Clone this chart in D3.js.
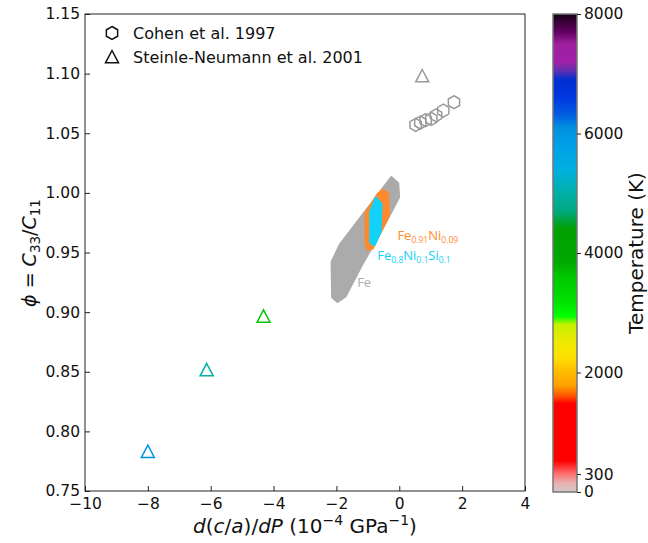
<!DOCTYPE html>
<html>
<head>
<meta charset="utf-8">
<script src="https://cdn.jsdelivr.net/npm/d3@7"></script>
<style>
	body { margin: 0; background: #fff; }
	svg { display: block; font-family: 'DejaVu Sans', sans-serif; }
	.tick text { font-family: 'DejaVu Sans', sans-serif; font-size: 15.5px; fill: #111; }
</style>
</head>
<body>
<svg id="chart" width="648" height="543"></svg>
<script>
const W = 648
const H = 543

// Steinle-Neumann et al. 2001 (triangles)
const steinleX = [-8.0, -6.13, -4.32, 0.73]
const steinlePhi = [0.783, 0.8515, 0.8965, 1.098]
const steinleT = [6000, 5000, 3600, 0]

// Cohen et al. 1997 (hexagons), 0 K
const cohenX = [0.52, 0.67, 0.84, 1.02, 1.17, 1.40, 1.74]
const cohenPhi = [1.057, 1.059, 1.061, 1.062, 1.065, 1.069, 1.076]

// shaded regions, outline in (dc/a/dP, phi)
const feX = [-0.25, -0.05, -0.02, -0.51, -1.24, -1.72, -1.97, -2.12, -2.14, -1.88]
const fePhi = [1.0128, 1.008, 0.9965, 0.972, 0.9378, 0.9135, 0.9090, 0.9125, 0.942, 0.9563]
const niX = [-0.51, -0.37, -0.34, -0.86, -1.00, -1.06, -1.06, -0.67]
const niPhi = [1.002, 0.9995, 0.9814, 0.9535, 0.9528, 0.9563, 0.9831, 0.999]
const siX = [-0.74, -0.58, -0.61, -0.80, -0.91, -0.91]
const siPhi = [0.9955, 0.9905, 0.9672, 0.9565, 0.9585, 0.984]

const xTicks = [-10, -8, -6, -4, -2, 0, 2, 4]
const yTicks = [0.75, 0.80, 0.85, 0.90, 0.95, 1.00, 1.05, 1.10, 1.15]
const cbTicks = [0, 300, 2000, 4000, 6000, 8000]

// colour map
const cmapT = [0, 150, 320, 520, 1480, 1600, 1780, 2050, 2250, 2500, 2800, 2940, 3200, 3600, 3850, 4400, 4700, 5000, 5400, 5800, 6100, 6300, 6600, 6900, 7050, 7200, 7500, 7700, 7900, 8000]
const cmapC = ['#d2c8c8', '#e8b0b0', '#ff6868', '#ff0000', '#ff0000', '#ff5000', '#ffa000', '#ffc000', '#ffe000', '#eeea00', '#c8f000', '#00ff00', '#00e000', '#00c800', '#00a800', '#00a000', '#00a880', '#00b0a8', '#00b0e0', '#00a0e8', '#0090e0', '#0060e0', '#0038e0', '#0030d0', '#6030b0', '#a020a8', '#a020a0', '#600060', '#300030', '#100010']

const svg = d3.select('#chart')

const x = d3.scaleLinear().domain([-10, 4]).range([85, 525])
const y = d3.scaleLinear().domain([0.75, 1.15]).range([491, 14])
const tColor = d3.scaleLinear().domain(cmapT).range(cmapC).interpolate(d3.interpolateRgb)
const markerColor = t => t === 0 ? '#999' : tColor(t)

function hexPath(r) {
	return d3.range(6).map(k => {
		const a = -Math.PI / 2 + k * Math.PI / 3
		return [r * Math.cos(a), r * Math.sin(a)]
	})
}
function triPath(s) {
	return [[0, -s], [-s, s * 0.9], [s, s * 0.9]]
}
const closed = d3.line().curve(d3.curveLinearClosed)

// regions
const regionLine = d3.line()
	.x(d => x(d[0]))
	.y(d => y(d[1]))
	.curve(d3.curveLinearClosed)

const regions = [
	{ xs: feX, ys: fePhi, color: '#ababab' },
	{ xs: niX, ys: niPhi, color: '#ff8a2e' },
	{ xs: siX, ys: siPhi, color: '#14d2f7' },
]
svg.selectAll('.region').data(regions).enter()
	.append('path')
		.attr('class', 'region')
		.attr('d', d => regionLine(d.xs.map((v, i) => [v, d.ys[i]])))
		.attr('fill', d => d.color)
		.attr('stroke', d => d.color)
		.attr('stroke-width', 3)
		.attr('stroke-linejoin', 'round')

// region labels
function subLabel(px, py, parts, color) {
	const t = svg.append('text')
		.attr('x', x(px))
		.attr('y', y(py))
		.attr('fill', color)
		.style('font-family', "'Open Sans', sans-serif")
	parts.forEach(p => {
		t.append('tspan')
			.style('font-size', p.sub ? '8.5px' : '13px')
			.attr('dy', p.sub ? 3 : (p.after ? -3 : 0))
			.text(p.s)
	})
}
subLabel(-0.06, 0.9605, [{ s: 'Fe' }, { s: '0.91', sub: true }, { s: 'Ni', after: true }, { s: '0.09', sub: true }], '#ff8a2e')
subLabel(-0.70, 0.9437, [{ s: 'Fe' }, { s: '0.8', sub: true }, { s: 'Ni', after: true }, { s: '0.1', sub: true }, { s: 'Si', after: true }, { s: '0.1', sub: true }], '#14d2f7')
subLabel(-1.34, 0.921, [{ s: 'Fe' }], '#ababab')

// markers
svg.selectAll('.hex').data(cohenX).enter()
	.append('path')
		.attr('class', 'hex')
		.attr('transform', (d, i) => `translate(${x(d)},${y(cohenPhi[i])})`)
		.attr('d', closed(hexPath(6.5)))
		.attr('fill', 'none')
		.attr('stroke', markerColor(0))
		.attr('stroke-width', 1.5)

svg.selectAll('.tri').data(steinleX).enter()
	.append('path')
		.attr('class', 'tri')
		.attr('transform', (d, i) => `translate(${x(d)},${y(steinlePhi[i])})`)
		.attr('d', closed(triPath(6.5)))
		.attr('fill', 'none')
		.attr('stroke', (d, i) => markerColor(steinleT[i]))
		.attr('stroke-width', 1.5)

// axes
const xAxis = d3.axisBottom(x)
	.tickValues(xTicks)
	.tickSizeInner(-5)
	.tickSizeOuter(0)
	.tickPadding(7)
const yAxis = d3.axisLeft(y)
	.tickValues(yTicks)
	.tickFormat(d3.format('.2f'))
	.tickSizeInner(-5)
	.tickSizeOuter(0)
	.tickPadding(5)

svg.append('g').attr('transform', 'translate(0,491)').call(xAxis)
svg.append('g').attr('transform', 'translate(85,0)').call(yAxis)
svg.selectAll('.domain').remove()
svg.selectAll('.tick line').attr('stroke', '#222')

svg.append('rect')
	.attr('x', 85).attr('y', 14)
	.attr('width', 440).attr('height', 477)
	.attr('fill', 'none')
	.attr('stroke', '#222')
	.attr('stroke-width', 1)

// legend
const legend = svg.append('g').attr('transform', 'translate(112,33)')
legend.append('path')
	.attr('d', closed(hexPath(6.5)))
	.attr('fill', 'none').attr('stroke', '#111').attr('stroke-width', 1.5)
legend.append('path')
	.attr('transform', 'translate(0,24)')
	.attr('d', closed(triPath(6.5)))
	.attr('fill', 'none').attr('stroke', '#111').attr('stroke-width', 1.5)
legend.append('text').attr('x', 21).attr('y', 6).style('font-size', '16px').attr('fill', '#111')
	.text('Cohen et al. 1997')
legend.append('text').attr('x', 21).attr('y', 30).style('font-size', '16px').attr('fill', '#111')
	.text('Steinle-Neumann et al. 2001')

// axis titles
const xt = svg.append('text')
	.attr('x', 305).attr('y', 533)
	.attr('text-anchor', 'middle')
	.style('font-size', '20px')
	.attr('fill', '#111')
xt.append('tspan').style('font-style', 'italic').text('d')
xt.append('tspan').text('(')
xt.append('tspan').style('font-style', 'italic').text('c')
xt.append('tspan').text('/')
xt.append('tspan').style('font-style', 'italic').text('a')
xt.append('tspan').text(')/')
xt.append('tspan').style('font-style', 'italic').text('dP')
xt.append('tspan').text(' (10')
xt.append('tspan').attr('dy', -8).style('font-size', '14px').text('\u22124')
xt.append('tspan').attr('dy', 8).text(' GPa')
xt.append('tspan').attr('dy', -8).style('font-size', '14px').text('\u22121')
xt.append('tspan').attr('dy', 8).text(')')

const yt = svg.append('text')
	.attr('transform', 'translate(36,253) rotate(-90)')
	.attr('text-anchor', 'middle')
	.style('font-size', '19px')
	.attr('fill', '#111')
yt.append('tspan').style('font-style', 'italic').text('\u03D5')
yt.append('tspan').text(' = ')
yt.append('tspan').style('font-style', 'italic').text('C')
yt.append('tspan').attr('dy', 4).style('font-size', '13.5px').text('33')
yt.append('tspan').attr('dy', -4).text('/')
yt.append('tspan').style('font-style', 'italic').text('C')
yt.append('tspan').attr('dy', 4).style('font-size', '13.5px').text('11')

// colour bar
const cbX = 553
const cbW = 24
const cb = d3.scaleLinear().domain([0, 8000]).range([492, 14])

const grad = svg.append('defs').append('linearGradient')
	.attr('id', 'cbgrad')
	.attr('x1', 0).attr('y1', 1).attr('x2', 0).attr('y2', 0)
grad.selectAll('stop').data(cmapT).enter()
	.append('stop')
		.attr('offset', d => d / 8000)
		.attr('stop-color', (d, i) => cmapC[i])

svg.append('rect')
	.attr('x', cbX).attr('y', 14)
	.attr('width', cbW).attr('height', 478)
	.attr('fill', 'url(#cbgrad)')
	.attr('stroke', '#777')
	.attr('stroke-width', 1.5)

const cbAxis = d3.axisRight(cb)
	.tickValues(cbTicks)
	.tickFormat(d3.format('d'))
	.tickSizeInner(4)
	.tickSizeOuter(0)
	.tickPadding(3)
svg.append('g').attr('class', 'cbaxis')
	.attr('transform', `translate(${cbX + cbW},0)`)
	.call(cbAxis)
svg.select('.cbaxis .domain').remove()
svg.selectAll('.cbaxis .tick line').attr('stroke', '#222')

svg.append('text')
	.attr('transform', 'translate(643,253) rotate(-90)')
	.attr('text-anchor', 'middle')
	.style('font-size', '20px')
	.attr('fill', '#111')
	.text('Temperature (K)')
</script>
</body>
</html>
